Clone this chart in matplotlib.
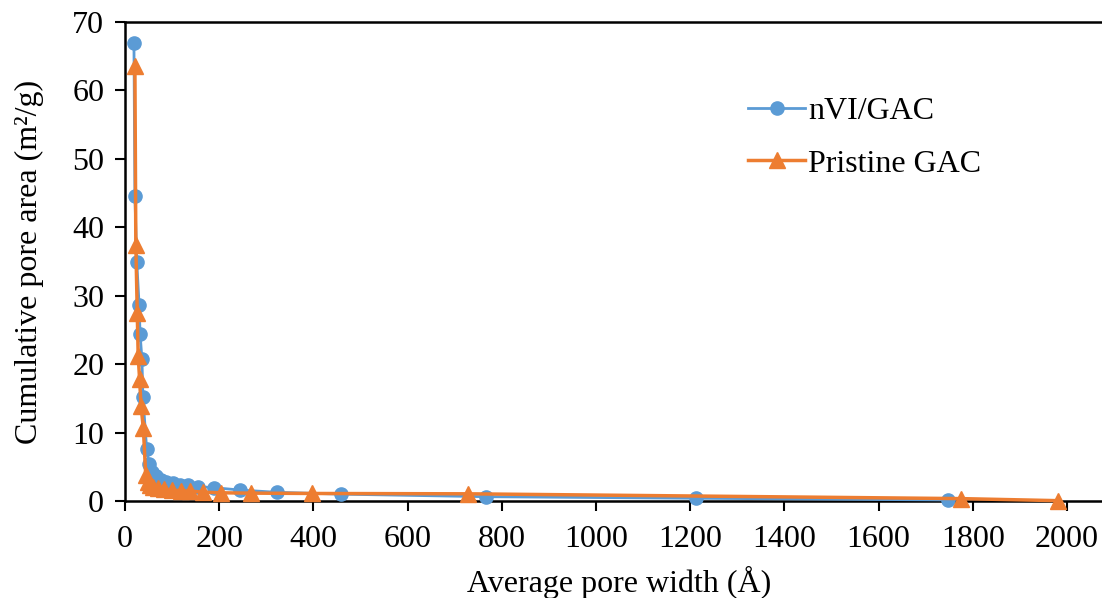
import matplotlib
matplotlib.use("Agg")
import matplotlib.pyplot as plt

nvi_x = [19, 21, 25, 30, 32, 36, 38, 46, 51, 58, 66, 76, 88, 101, 117, 134, 156, 189, 244, 323, 459, 766, 1213, 1748]
nvi_y = [66.9, 44.6, 34.9, 28.6, 24.4, 20.7, 15.2, 7.6, 5.4, 4.3, 3.6, 3.1, 2.8, 2.6, 2.4, 2.3, 2.1, 1.95, 1.6, 1.27, 1.0, 0.63, 0.4, 0.15]

pri_x = [21, 23, 26, 28, 31, 34, 39, 44, 48, 53, 60, 70, 83, 99, 118, 138, 165, 203, 268, 398, 729, 1774, 1980]
pri_y = [63.6, 37.4, 27.5, 21.2, 17.8, 13.9, 10.6, 3.8, 2.8, 2.3, 2.0, 1.85, 1.7, 1.6, 1.5, 1.45, 1.3, 1.2, 1.15, 1.1, 1.05, 0.35, 0.05]

xticks = [0, 200, 400, 600, 800, 1000, 1200, 1400, 1600, 1800, 2000]
yticks = [0, 10, 20, 30, 40, 50, 60, 70]

plt.rcParams['font.family'] = ['Liberation Serif', 'DejaVu Serif']
plt.rcParams['font.size'] = 23

fig = plt.figure(figsize=(11.02, 5.98), dpi=100)
ax = fig.add_axes([125/1102, 1-501/598, (2100*0.471)/1102, (501-22)/598])

ax.plot(nvi_x, nvi_y, color='#5B9BD5', lw=2, marker='o', ms=9.5, label='nVI/GAC', zorder=3, clip_on=False)
ax.plot(pri_x, pri_y, color='#ED7D31', lw=2.5, marker='^', ms=11.5, label='Pristine GAC', zorder=4, clip_on=False)

ax.set_xlim(0, 2100)
ax.set_ylim(0, 70)
ax.set_xticks(xticks)
ax.set_yticks(yticks)
ax.tick_params(direction='out', length=7, width=1.5, labelsize=23)
ax.tick_params(axis='y', pad=8)
ax.tick_params(axis='x', pad=10)
for s in ax.spines.values():
    s.set_linewidth(1.8)
    s.set_color('black')
    s.set_zorder(2)

ax.set_xlabel('Average pore width (Å)', fontsize=23, labelpad=9)
ax.set_ylabel('Cumulative pore area (m²/g)', fontsize=23, labelpad=20)

leg = ax.legend(loc='upper left', bbox_to_anchor=((735-125)/(2100*0.471), (501-84)/479),
                frameon=False, fontsize=23, handlelength=1.8, handletextpad=0.08,
                labelspacing=0.72, borderaxespad=0)

fig.savefig('out.png', dpi=100)
